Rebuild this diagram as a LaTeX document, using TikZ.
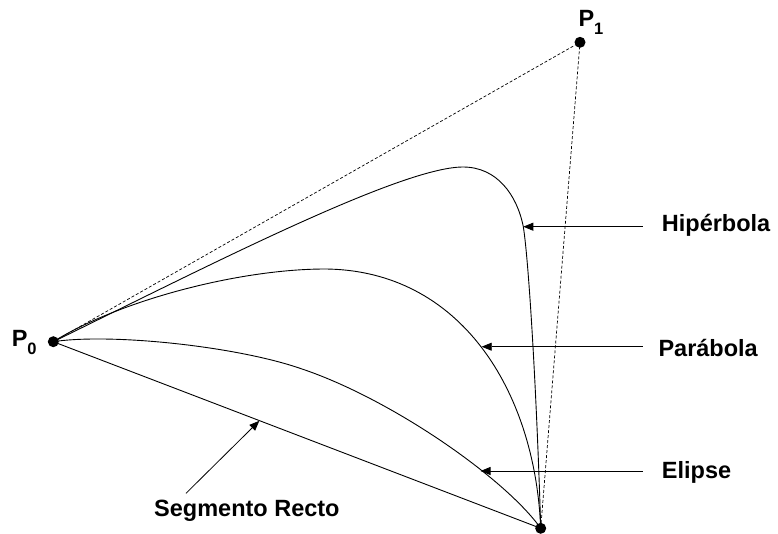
\documentclass[tikz,border=0pt]{standalone}
\usepackage{fontspec}
\setmainfont{Liberation Sans}
\usetikzlibrary{arrows.meta}

\newcommand{\psub}[1]{{\fontsize{16.5}{16.5}\selectfont\raisebox{-8pt}{#1}}}

\begin{document}
\begin{tikzpicture}[
    x=1pt,y=-1pt,>={Triangle[length=10pt,width=8pt]},
    font=\fontsize{23.5}{28}\selectfont\bfseries,
    conic/.style={draw=black,line width=0.9pt},
    ctrl/.style={draw=black,line width=0.7pt,dash pattern=on 3pt off 2pt},
    pointer/.style={->,line width=0.8pt},
    vertex/.style={circle,fill=black,inner sep=0pt,minimum size=11pt},
    tag/.style={anchor=base west,inner sep=0pt}
]
\useasboundingbox (0,0) rectangle (778,533);
% Control points.
\node[vertex] (p0) at (53.3,341.7) {};
\node[vertex] (p1) at (580,42.3) {};
\node[vertex] (p2) at (540.7,528.3) {};
% Where the pointers meet the curves.
\coordinate (hypTip) at (523.3,226.7);
\coordinate (hypTail) at (642.7,226.7);
\coordinate (parTip) at (481.7,346.7);
\coordinate (parTail) at (642.7,346.7);
\coordinate (ellTip) at (480.5,471);
\coordinate (ellTail) at (642.7,471);
\coordinate (segTip) at (259.3,420.8);
\coordinate (segTail) at (186,493.3);
% Control polygon.
\draw[ctrl] (p0.center) -- (p1.center) -- (p2.center);
% Conics through P0 and P2.
\draw[conic] (p0.center) .. controls (200,270) and (400,167) .. (463,167)
    .. controls (497,167) and (517,195) .. (hypTip)
    .. controls (529,262) and (537,400) .. (p2.center);
\draw[conic] (p0.center) .. controls (120,300) and (240,269) .. (325,269)
    .. controls (460,270) and (535,390) .. (p2.center);
\draw[conic] (p0.center) .. controls (110,333) and (235,346) .. (300,368.3)
    .. controls (390,398) and (505,478) .. (p2.center);
\draw[conic] (p0.center) -- (p2.center);
% Labels.
\node[tag] (lp0) at (11.6,346.7) {P\psub{0}};
\node[tag] (lp1) at (578.3,26) {P\psub{1}};
\node[tag] (lhyp) at (661.7,231.7) {Hipérbola};
\node[tag] (lpar) at (658.3,356.3) {Parábola};
\node[tag] (lell) at (661.7,478.3) {Elipse};
\node[tag] (lseg) at (154,516.7) {Segmento Recto};
% Pointers.
\draw[pointer] (hypTail) -- (hypTip);
\draw[pointer] (parTail) -- (parTip);
\draw[pointer] (ellTail) -- (ellTip);
\draw[pointer] (segTail) -- (segTip);
\end{tikzpicture}
\end{document}
